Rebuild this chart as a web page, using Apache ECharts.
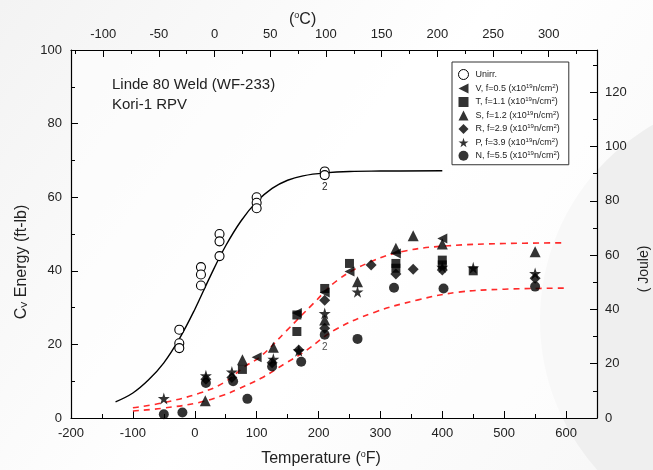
<!DOCTYPE html>
<html><head><meta charset="utf-8">
<script src="https://cdn.jsdelivr.net/npm/echarts@6/dist/echarts.min.js"></script>
<style>html,body{margin:0;padding:0;background:#fff}#c{width:653px;height:470px}</style>
</head><body><div id="c"></div>
<script>
// ---- data (Temperature °F, Cv energy ft-lb) ----
const unirr = [[-25,24],[-25,20.3],[-25,19],[10,41],[10,39],[10,36],[40,50],[40,48],[40,44],[100,60],[100,58.5],[100,57],[210,67],[210,66,'2']];
const serV = [[100,16.5],[165,28.5],[210,34.1],[250,39.8],[325,44.7],[400,48.8]];
const serT = [[77,13.2],[165,28],[165,23.5],[210,35.2],[250,42],[325,42],[325,40.7],[400,42.9],[400,41.6],[450,40]];
const serS = [[17,4.7],[77,15.8],[127,19.2],[210,26.6],[263,37],[325,46.1],[353,49.5],[400,47.3],[550,45.2]];
const serR = [[18,10.5],[60,11],[125,15],[168,18.5],[210,32],[210,24.4],[285,41.6],[325,39.1],[353,40.4],[400,40.2],[550,38]];
const serP = [[-50,5.3],[18,11.5],[60,12.5],[127,16],[168,18.3],[210,28.4],[263,34.3],[400,41],[450,40.8],[550,39.3]];
const serN = [[-50,1],[-20,1.5],[18,9.5],[62,10],[85,5.2],[125,14],[172,15.3],[210,22.6,'2'],[263,21.5],[322,35.4],[402,35.2],[550,35.7]];
const fitUnirr = [[-128,4.4],[-100,6.8],[-75,10.3],[-50,15],[-25,21.5],[0,29.5],[25,38.5],[50,46.8],[75,53.6],[100,58.8],[125,62.4],[150,64.6],[175,65.8],[210,66.6],[250,67],[300,67.1],[400,67.2]];
const fitUpper = [[-100,2.8],[-55,4],[7,6.7],[47,9.6],[80,13.9],[107,16.8],[147,23.5],[191,31],[231,37.5],[285,42.5],[340,45.4],[410,46.8],[500,47.4],[600,47.6]];
const fitLower = [[-100,1.9],[-55,2.6],[7,4.2],[47,6.25],[69,7.8],[107,10.8],[147,14.9],[177,18],[226,23.9],[290,28.7],[361,32.1],[426,34.2],[500,35],[600,35.3]];
const legendLetters = ['V','T','S','R','P','N'];
const legendFluence = ['0.5','1.1','1.2','2.9','3.9','5.5'];
const fTicks = [-200,-100,0,100,200,300,400,500,600];
const cTicks = [-100,-50,0,50,100,150,200,250,300];
const cMinor = [-125,-75,-25,25,75,125,175,225,275,325];
const jTicks = [0,20,40,60,80,100,120];
const jMinor = [10,30,50,70,90,110,130];

const FONT = 'Arial, "Liberation Sans", sans-serif';
const fMin = -200, fMax = 650;
const toC = f => (f - 32) * 5 / 9;
const J = 1.355818;
const starPath = 'path://M50,0 L61,35 L98,35 L68,57 L79,91 L50,70 L21,91 L32,57 L2,35 L39,35 Z';
const leftTri = 'path://M0,50 L100,0 L100,100 Z';

const names = ['Unirr.'].concat(legendLetters.map((l,i)=>l+', f='+legendFluence[i]));
const symbols = ['circle', leftTri, 'rect', 'triangle', 'diamond', starPath, 'circle'];
const sizes = [9, 10, 9, 11, 11, 12, 10];
const datasets = [unirr, serV, serT, serS, serR, serP, serN];

const series = datasets.map((d,i)=>({
  name: names[i], type:'scatter', xAxisIndex:0, yAxisIndex:0,
  symbol: symbols[i], symbolSize: sizes[i], z: 5,
  itemStyle: i===0 ? {color:'#ffffff', borderColor:'#000000', borderWidth:1.1, opacity:1} : {color:'#000'},
  data: d.map(p => p[2] ? {value:[p[0],p[1]], label:{show:true, formatter:p[2], position:'bottom', distance:2, color:'#222', fontSize:10, fontFamily:FONT}} : [p[0],p[1]])
}));
series.push({type:'line', name:'fitU', data:fitUnirr, smooth:0.4, showSymbol:false, symbol:'none', lineStyle:{color:'#000', width:1.4}, z:3, silent:true});
series.push({type:'line', name:'fitHi', data:fitUpper, smooth:0.4, showSymbol:false, symbol:'none', lineStyle:{color:'#ff2a2a', width:1.6, type:[6,5]}, z:3, silent:true});
series.push({type:'line', name:'fitLo', data:fitLower, smooth:0.4, showSymbol:false, symbol:'none', lineStyle:{color:'#ff2a2a', width:1.6, type:[6,5]}, z:3, silent:true});

const axisLine = {show:true, onZero:false, lineStyle:{color:'#000', width:1.2}};
const noLine = {show:false, onZero:false};
const lbl = {color:'#222', fontSize:13, fontFamily:FONT};

const chart = echarts.init(document.getElementById('c'));
chart.setOption({
  backgroundColor: {type:'linear', x:0, y:0, x2:1, y2:1, colorStops:[{offset:0,color:'#f3f3f3'},{offset:0.5,color:'#ffffff'},{offset:1,color:'#f7f7f7'}]},
  animation:false,
  graphic:[{type:'circle', shape:{cx:765, cy:320, r:225}, style:{fill:'#efefef'}, z:-10, silent:true}],
  title:[
    {text:'Linde 80 Weld (WF-233)', left:107, top:72, textStyle:{fontSize:15, fontWeight:'normal', color:'#222', fontFamily:FONT}},
    {text:'Kori-1 RPV', left:107, top:92, textStyle:{fontSize:15, fontWeight:'normal', color:'#222', fontFamily:FONT}},
    {text:'({s|o}C)', left:284, top:6, textStyle:{fontSize:16, fontWeight:'normal', color:'#222', fontFamily:FONT, rich:{s:{fontSize:9, padding:[0,0,9,0], color:'#222'}}}}
  ],
  grid:{left:71, right:56, top:50, bottom:52, outerBoundsMode:'none', containLabel:false, show:true, backgroundColor:'rgba(255,255,255,0.55)', borderWidth:0},
  legend:{
    data: names.map((n,i)=>({name:n, icon: symbols[i], itemStyle: i===0 ? {color:'#fff', borderColor:'#000', borderWidth:1} : {color:'#000'}})),
    orient:'vertical', left:452, top:62,
    backgroundColor:'#fff', borderColor:'#333', borderWidth:1,
    padding:[7,9,4,6], itemGap:3, itemWidth:10, itemHeight:10,
    selectedMode:false,
    formatter: n => n==='Unirr.' ? n : n + ' (x10{s|19}n/cm{s|2})',
    textStyle:{fontSize:9, color:'#222', fontFamily:FONT, padding:[0,0,0,2], rich:{s:{fontSize:6, padding:[0,0,5,0], color:'#222'}}}
  },
  xAxis:[
    {type:'value', position:'bottom', min:fMin, max:fMax, interval:100,
     name:'Temperature ({s|o}F)', nameLocation:'middle', nameGap:32,
     nameTextStyle:{fontSize:16, color:'#222', fontFamily:FONT, padding:[0,26,0,0], rich:{s:{fontSize:9, padding:[0,0,9,0], color:'#222'}}},
     axisLine, axisTick:{show:true, inside:true, length:7, lineStyle:{color:'#000'}},
     axisLabel:Object.assign({margin:9, customValues:fTicks}, lbl), splitLine:{show:false}},
    {type:'value', position:'top', min:toC(fMin), max:toC(fMax),
     axisLine, axisTick:{show:true, inside:true, length:7, customValues:cTicks, lineStyle:{color:'#000'}},
     axisLabel:Object.assign({margin:9, customValues:cTicks}, lbl), splitLine:{show:false}},
    {type:'value', position:'top', min:toC(fMin), max:toC(fMax),
     axisLine:noLine, axisTick:{show:true, inside:true, length:4, customValues:cMinor, lineStyle:{color:'#000'}},
     axisLabel:{show:false}, splitLine:{show:false}},
    {type:'value', position:'bottom', min:fMin, max:fMax, interval:50,
     axisLine:noLine, axisTick:{show:true, inside:true, length:4, lineStyle:{color:'#000'}},
     axisLabel:{show:false}, splitLine:{show:false}}
  ],
  yAxis:[
    {type:'value', position:'left', min:0, max:100, interval:20,
     name:'C{s|V} Energy (ft-lb)', nameLocation:'middle', nameGap:38, nameRotate:90,
     nameTextStyle:{fontSize:16, color:'#222', fontFamily:FONT, padding:[0,56,0,0], rich:{s:{fontSize:9, padding:[7,0,0,0], color:'#222'}}},
     axisLine, axisTick:{show:true, inside:true, length:7, lineStyle:{color:'#000'}},
     minorTick:{show:true, splitNumber:2, length:4, lineStyle:{color:'#000'}},
     axisLabel:Object.assign({margin:9}, lbl), splitLine:{show:false}, minorSplitLine:{show:false}},
    {type:'value', position:'right', min:0, max:100*J,
     name:'( Joule)', nameLocation:'middle', nameGap:36, nameRotate:90,
     nameTextStyle:{fontSize:14, color:'#222', fontFamily:FONT, padding:[0,70,0,0]},
     axisLine, axisTick:{show:true, inside:true, length:7, customValues:jTicks, lineStyle:{color:'#000'}},
     axisLabel:Object.assign({margin:8, customValues:jTicks}, lbl), splitLine:{show:false}},
    {type:'value', position:'right', min:0, max:100*J,
     axisLine:noLine, axisTick:{show:true, inside:true, length:4, customValues:jMinor, lineStyle:{color:'#000'}},
     axisLabel:{show:false}, splitLine:{show:false}}
  ],
  series
});
</script></body></html>
